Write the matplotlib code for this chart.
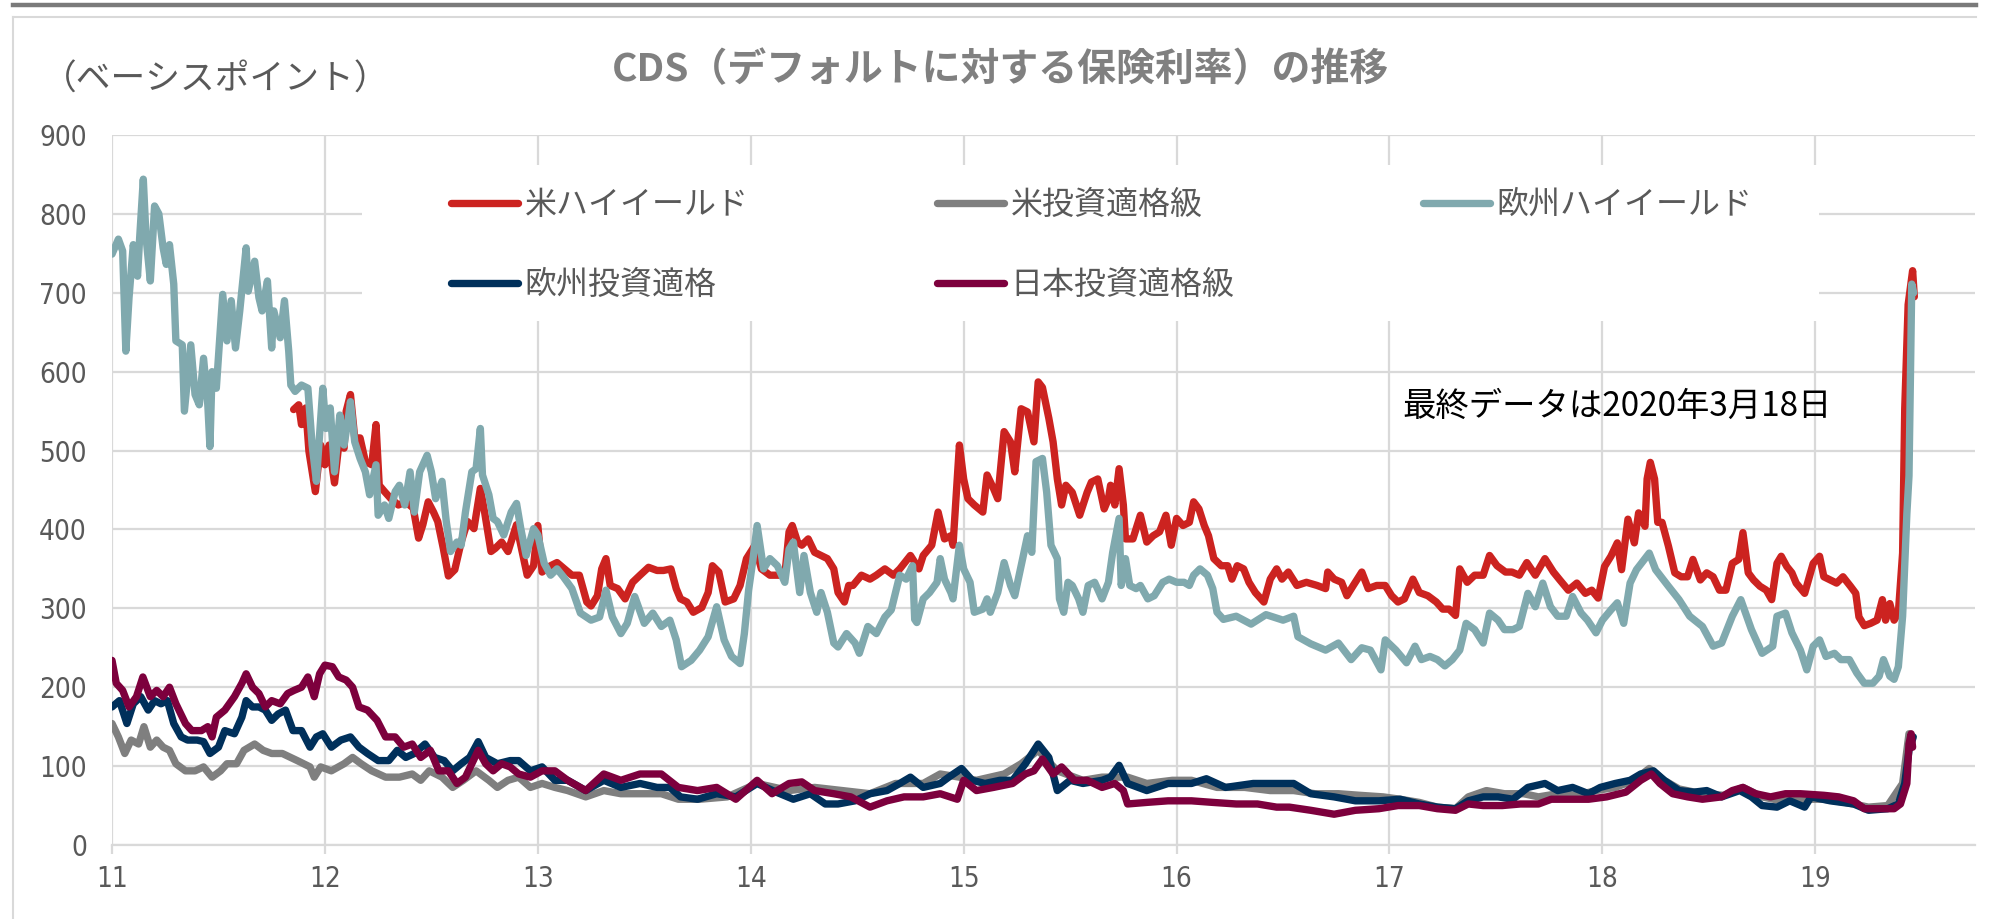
import matplotlib.pyplot as plt
from matplotlib import font_manager
from matplotlib.lines import Line2D
from matplotlib.patches import Rectangle

plt.rcParams['font.family'] = ['Noto Sans CJK JP', 'DejaVu Sans']

# ---- data (x = year label position, y = basis points) ----
us_hy_x = [11.853, 11.877, 11.89, 11.91, 11.925, 11.955, 11.98, 12.0, 12.02, 12.045, 12.065, 12.09, 12.1, 12.12,
           12.14, 12.165, 12.19, 12.22, 12.24, 12.255, 12.28, 12.31, 12.345, 12.38, 12.415, 12.44, 12.46, 12.485,
           12.51, 12.53, 12.556, 12.58, 12.61, 12.64, 12.67, 12.7, 12.73, 12.75, 12.78, 12.8, 12.83, 12.86, 12.9,
           12.92, 12.95, 12.98, 13.0, 13.02, 13.06, 13.09, 13.125, 13.16, 13.195, 13.23, 13.25, 13.28, 13.3, 13.32,
           13.34, 13.375, 13.41, 13.445, 13.48, 13.52, 13.56, 13.59, 13.625, 13.65, 13.67, 13.7, 13.73, 13.77, 13.8,
           13.82, 13.85, 13.88, 13.92, 13.95, 13.98, 14.02, 14.05, 14.09, 14.125, 14.16, 14.18, 14.195, 14.22, 14.24,
           14.27, 14.3, 14.33, 14.36, 14.39, 14.41, 14.44, 14.46, 14.48, 14.52, 14.56, 14.59, 14.63, 14.67, 14.7,
           14.75, 14.79, 14.81, 14.85, 14.88, 14.91, 14.94, 14.95, 14.98, 15.0, 15.02, 15.05, 15.09, 15.11, 15.14,
           15.16, 15.19, 15.22, 15.24, 15.27, 15.3, 15.33, 15.35, 15.37, 15.4, 15.42, 15.44, 15.46, 15.48, 15.51,
           15.545, 15.58, 15.6, 15.63, 15.66, 15.68, 15.69, 15.71, 15.73, 15.75, 15.76, 15.795, 15.83, 15.86, 15.89,
           15.92, 15.95, 15.975, 16.0, 16.03, 16.06, 16.08, 16.105, 16.13, 16.15, 16.175, 16.21, 16.24, 16.26, 16.285,
           16.315, 16.34, 16.37, 16.41, 16.44, 16.47, 16.495, 16.525, 16.565, 16.61, 16.66, 16.7, 16.71, 16.74,
           16.775, 16.8, 16.83, 16.87, 16.9, 16.94, 16.98, 17.01, 17.04, 17.07, 17.11, 17.14, 17.18, 17.22, 17.25,
           17.28, 17.31, 17.33, 17.365, 17.4, 17.44, 17.47, 17.505, 17.545, 17.575, 17.61, 17.645, 17.685, 17.73,
           17.77, 17.8, 17.84, 17.88, 17.92, 17.95, 17.98, 18.01, 18.04, 18.07, 18.09, 18.12, 18.15, 18.17, 18.2,
           18.21, 18.225, 18.245, 18.26, 18.28, 18.31, 18.34, 18.37, 18.4, 18.425, 18.46, 18.49, 18.52, 18.55, 18.58,
           18.61, 18.64, 18.66, 18.685, 18.71, 18.74, 18.77, 18.795, 18.82, 18.84, 18.866, 18.89, 18.91, 18.95,
           18.99, 19.02, 19.04, 19.07, 19.1, 19.13, 19.165, 19.19, 19.205, 19.23, 19.26, 19.29, 19.315, 19.33, 19.35,
           19.37, 19.39, 19.41, 19.42, 19.436, 19.457, 19.465]
us_hy_y = [552, 558, 533, 554, 499, 448, 507, 482, 507, 459, 507, 503, 550, 571, 516, 516, 486, 482, 533, 456, 448,
           439, 431, 435, 427, 389, 406, 435, 422, 410, 376, 341, 349, 384, 410, 401, 452, 422, 372, 376, 384, 372,
           406, 380, 342, 354, 405, 346, 354, 358, 350, 342, 342, 308, 303, 316, 350, 363, 329, 325, 312, 333, 342,
           352, 348, 348, 350, 325, 312, 308, 295, 301, 320, 354, 346, 308, 312, 329, 363, 380, 350, 342, 342, 342,
           397, 405, 384, 380, 388, 371, 367, 363, 350, 320, 308, 329, 329, 342, 337, 342, 350, 342, 350, 367, 350,
           367, 380, 422, 388, 392, 380, 507, 464, 439, 431, 422, 469, 452, 439, 524, 511, 473, 553, 549, 511, 587,
           580, 541, 511, 464, 431, 456, 447, 418, 447, 460, 464, 426, 439, 456, 431, 477, 431, 388, 388, 418, 384,
           392, 397, 418, 380, 414, 405, 409, 435, 426, 405, 392, 363, 354, 354, 337, 354, 350, 333, 320, 308, 337,
           350, 337, 346, 329, 333, 329, 325, 346, 337, 333, 316, 329, 346, 325, 329, 329, 316, 308, 312, 337, 320,
           316, 308, 299, 299, 291, 350, 333, 342, 342, 367, 354, 346, 346, 342, 358, 342, 363, 346, 336, 323, 332,
           319, 323, 313, 353, 366, 383, 349, 413, 383, 421, 404, 464, 485, 464, 409, 409, 379, 345, 340, 340, 362,
           336, 345, 340, 323, 323, 357, 362, 396, 345, 336, 328, 323, 311, 357, 366, 353, 345, 332, 319, 357, 366,
           340, 336, 332, 340, 328, 319, 289, 278, 281, 285, 311, 285, 306, 285, 294, 370, 553, 685, 728, 695]

us_ig_x = [11.0, 11.03, 11.06, 11.09, 11.125, 11.15, 11.18, 11.21, 11.24, 11.27, 11.3, 11.345, 11.39, 11.43, 11.47,
           11.51, 11.54, 11.585, 11.62, 11.67, 11.71, 11.75, 11.8, 11.87, 11.93, 11.95, 11.98, 12.03, 12.09, 12.13,
           12.17, 12.22, 12.285, 12.35, 12.41, 12.45, 12.49, 12.55, 12.6, 12.65, 12.71, 12.77, 12.81, 12.86, 12.91,
           12.965, 13.02, 13.08, 13.14, 13.225, 13.31, 13.39, 13.48, 13.58, 13.66, 13.76, 13.89, 14.03, 14.18, 14.3,
           14.43, 14.56, 14.68, 14.81, 14.89, 14.98, 15.06, 15.19, 15.27, 15.35, 15.44, 15.56, 15.65, 15.77, 15.86,
           15.98, 16.07, 16.19, 16.32, 16.44, 16.55, 16.65, 16.76, 16.86, 16.97, 17.05, 17.14, 17.225, 17.31, 17.37,
           17.455, 17.54, 17.63, 17.7, 17.79, 17.88, 17.97, 18.06, 18.15, 18.22, 18.29, 18.36, 18.47, 18.57, 18.66,
           18.75, 18.84, 18.95, 19.04, 19.14, 19.25, 19.34, 19.41, 19.44, 19.455]
us_ig_y = [154, 137, 116, 133, 128, 150, 124, 133, 124, 120, 103, 94, 94, 99, 86, 94, 103, 103, 120, 128, 120, 116,
           116, 107, 99, 86, 99, 94, 103, 111, 103, 94, 86, 86, 90, 82, 94, 86, 73, 82, 94, 82, 73, 82, 86, 73, 78,
           73, 69, 61, 69, 65, 65, 65, 58, 58, 61, 78, 69, 73, 69, 65, 78, 78, 90, 86, 82, 90, 103, 120, 94, 82, 86,
           86, 78, 82, 82, 73, 73, 69, 69, 65, 65, 63, 61, 58, 54, 48, 46, 61, 69, 65, 65, 61, 65, 63, 69, 73, 82,
           97, 82, 71, 65, 63, 73, 61, 56, 58, 58, 54, 48, 50, 78, 141, 137]

eu_hy_x = [11.0, 11.03, 11.05, 11.065, 11.08, 11.1, 11.12, 11.13, 11.147, 11.16, 11.18, 11.2, 11.22, 11.24, 11.255,
           11.27, 11.29, 11.3, 11.33, 11.34, 11.37, 11.39, 11.41, 11.43, 11.45, 11.46, 11.47, 11.49, 11.52, 11.54,
           11.56, 11.58, 11.6, 11.63, 11.64, 11.67, 11.69, 11.705, 11.73, 11.75, 11.76, 11.79, 11.81, 11.83, 11.84,
           11.86, 11.89, 11.92, 11.94, 11.96, 11.99, 12.005, 12.025, 12.045, 12.07, 12.09, 12.11, 12.12, 12.14,
           12.165, 12.19, 12.21, 12.24, 12.25, 12.28, 12.3, 12.33, 12.35, 12.375, 12.4, 12.42, 12.445, 12.48, 12.5,
           12.52, 12.55, 12.57, 12.59, 12.62, 12.64, 12.66, 12.69, 12.71, 12.73, 12.74, 12.77, 12.79, 12.81, 12.84,
           12.875, 12.9, 12.92, 12.945, 12.98, 13.0, 13.03, 13.06, 13.09, 13.12, 13.16, 13.2, 13.25, 13.29, 13.32,
           13.35, 13.39, 13.42, 13.455, 13.5, 13.54, 13.58, 13.62, 13.65, 13.675, 13.72, 13.76, 13.8, 13.84, 13.875,
           13.91, 13.95, 13.97, 13.99, 14.01, 14.03, 14.06, 14.09, 14.125, 14.16, 14.18, 14.2, 14.23, 14.25, 14.28,
           14.31, 14.33, 14.36, 14.39, 14.41, 14.45, 14.49, 14.51, 14.55, 14.59, 14.63, 14.66, 14.68, 14.7, 14.73,
           14.76, 14.77, 14.78, 14.81, 14.84, 14.875, 14.89, 14.91, 14.94, 14.95, 14.98, 15.0, 15.03, 15.05, 15.09,
           15.11, 15.125, 15.16, 15.19, 15.22, 15.24, 15.27, 15.3, 15.32, 15.34, 15.37, 15.39, 15.41, 15.44, 15.45,
           15.47, 15.49, 15.51, 15.54, 15.56, 15.585, 15.615, 15.65, 15.68, 15.7, 15.73, 15.74, 15.76, 15.78, 15.81,
           15.83, 15.865, 15.895, 15.935, 15.965, 16.0, 16.035, 16.06, 16.08, 16.11, 16.145, 16.17, 16.19, 16.22,
           16.28, 16.35, 16.42, 16.5, 16.55, 16.57, 16.63, 16.7, 16.76, 16.82, 16.87, 16.91, 16.96, 16.98, 17.03,
           17.08, 17.12, 17.15, 17.19, 17.225, 17.26, 17.295, 17.33, 17.36, 17.4, 17.44, 17.47, 17.51, 17.54, 17.58,
           17.61, 17.65, 17.685, 17.72, 17.756, 17.79, 17.83, 17.86, 17.9, 17.93, 17.97, 18.0, 18.04, 18.07, 18.1,
           18.13, 18.16, 18.22, 18.25, 18.31, 18.36, 18.41, 18.47, 18.52, 18.56, 18.61, 18.65, 18.7, 18.75, 18.8,
           18.82, 18.86, 18.89, 18.93, 18.96, 18.99, 19.02, 19.05, 19.09, 19.12, 19.16, 19.195, 19.23, 19.27, 19.3,
           19.32, 19.35, 19.37, 19.39, 19.41, 19.43, 19.44, 19.453, 19.462]
eu_hy_y = [749, 768, 753, 626, 694, 761, 721, 770, 844, 770, 715, 810, 800, 757, 736, 761, 711, 639, 634, 550, 634,
           571, 558, 617, 558, 505, 600, 579, 698, 639, 690, 630, 677, 757, 702, 740, 694, 677, 715, 630, 677, 643,
           690, 626, 583, 575, 583, 579, 507, 461, 579, 528, 554, 473, 545, 507, 541, 562, 511, 490, 473, 444, 482,
           418, 431, 414, 448, 456, 431, 473, 422, 473, 494, 473, 439, 461, 410, 372, 384, 380, 422, 473, 477, 528,
           469, 444, 414, 410, 393, 422, 433, 401, 367, 401, 393, 357, 342, 350, 340, 325, 294, 285, 289, 323, 289,
           268, 281, 315, 281, 294, 277, 285, 260, 226, 234, 247, 264, 302, 260, 239, 230, 268, 323, 361, 405, 350,
           363, 354, 333, 375, 384, 320, 367, 320, 295, 320, 295, 256, 251, 268, 256, 243, 277, 268, 289, 298, 320,
           342, 337, 354, 286, 282, 312, 320, 333, 363, 337, 320, 312, 380, 350, 333, 295, 299, 312, 295, 320, 358,
           329, 316, 354, 392, 371, 486, 490, 447, 380, 363, 312, 295, 333, 329, 312, 295, 329, 333, 312, 333, 371,
           414, 329, 363, 329, 325, 329, 312, 316, 333, 337, 333, 333, 329, 342, 350, 342, 325, 295, 286, 290, 280,
           292, 285, 290, 264, 255, 247, 256, 235, 250, 247, 222, 260, 247, 231, 252, 235, 239, 235, 227, 235, 247,
           281, 273, 256, 294, 285, 273, 273, 277, 319, 302, 332, 302, 290, 290, 315, 294, 285, 269, 285, 298, 307,
           281, 332, 349, 370, 349, 328, 311, 290, 277, 252, 256, 290, 311, 273, 243, 252, 290, 294, 269, 247, 222,
           252, 260, 239, 243, 235, 235, 218, 205, 205, 214, 235, 214, 210, 226, 290, 420, 468, 711, 700]

eu_ig_x = [11.0, 11.035, 11.07, 11.1, 11.135, 11.17, 11.2, 11.23, 11.26, 11.29, 11.325, 11.355, 11.4, 11.43, 11.46,
           11.5, 11.53, 11.575, 11.61, 11.63, 11.66, 11.69, 11.72, 11.75, 11.78, 11.815, 11.85, 11.89, 11.93, 11.96,
           11.99, 12.03, 12.075, 12.12, 12.16, 12.2, 12.25, 12.3, 12.34, 12.38, 12.42, 12.47, 12.515, 12.56, 12.6,
           12.64, 12.68, 12.72, 12.755, 12.81, 12.87, 12.91, 12.965, 13.02, 13.08, 13.14, 13.225, 13.31, 13.39,
           13.48, 13.56, 13.62, 13.67, 13.75, 13.84, 13.93, 14.03, 14.12, 14.2, 14.28, 14.35, 14.41, 14.49, 14.56,
           14.64, 14.7, 14.75, 14.81, 14.89, 14.93, 14.99, 15.04, 15.1, 15.17, 15.23, 15.29, 15.35, 15.4, 15.44,
           15.5, 15.56, 15.65, 15.69, 15.73, 15.77, 15.86, 15.96, 16.07, 16.14, 16.23, 16.36, 16.47, 16.55, 16.63,
           16.74, 16.84, 16.95, 17.05, 17.14, 17.225, 17.31, 17.37, 17.44, 17.51, 17.58, 17.65, 17.73, 17.79, 17.86,
           17.935, 17.99, 18.06, 18.13, 18.18, 18.24, 18.29, 18.36, 18.43, 18.49, 18.56, 18.645, 18.7, 18.75, 18.82,
           18.88, 18.95, 18.98, 19.07, 19.18, 19.25, 19.34, 19.39, 19.42, 19.44, 19.46]
eu_ig_y = [175, 183, 154, 179, 188, 171, 183, 179, 183, 154, 137, 133, 133, 131, 116, 124, 145, 141, 162, 183, 175,
           175, 171, 158, 166, 171, 145, 145, 124, 137, 141, 124, 133, 137, 124, 116, 107, 107, 120, 111, 116, 128,
           111, 107, 94, 103, 111, 131, 111, 103, 107, 107, 94, 99, 82, 82, 69, 82, 73, 78, 73, 73, 61, 58, 65, 61,
           78, 67, 58, 65, 52, 52, 56, 65, 69, 78, 86, 73, 78, 86, 97, 82, 78, 82, 82, 103, 128, 111, 69, 82, 78, 82,
           86, 101, 78, 69, 78, 78, 84, 73, 78, 78, 78, 65, 61, 56, 56, 58, 52, 48, 46, 56, 61, 61, 58, 73, 78, 69,
           73, 65, 73, 78, 82, 90, 94, 82, 69, 67, 69, 61, 69, 61, 50, 48, 56, 48, 61, 56, 52, 44, 46, 52, 78, 120,
           137]

jp_ig_x = [11.0, 11.02, 11.05, 11.08, 11.115, 11.145, 11.18, 11.21, 11.24, 11.27, 11.3, 11.345, 11.375, 11.42, 11.45,
           11.47, 11.49, 11.53, 11.575, 11.61, 11.63, 11.66, 11.69, 11.72, 11.75, 11.79, 11.825, 11.855, 11.89, 11.92,
           11.95, 11.975, 12.0, 12.035, 12.065, 12.1, 12.13, 12.16, 12.2, 12.245, 12.285, 12.33, 12.37, 12.41, 12.45,
           12.495, 12.535, 12.58, 12.62, 12.66, 12.69, 12.72, 12.755, 12.79, 12.83, 12.87, 12.91, 12.965, 13.02,
           13.08, 13.14, 13.225, 13.31, 13.39, 13.48, 13.58, 13.66, 13.75, 13.84, 13.93, 14.03, 14.1, 14.18, 14.24,
           14.3, 14.39, 14.47, 14.56, 14.64, 14.72, 14.81, 14.89, 14.97, 15.0, 15.06, 15.14, 15.23, 15.29, 15.33,
           15.37, 15.42, 15.46, 15.52, 15.58, 15.65, 15.71, 15.75, 15.77, 15.86, 15.96, 16.07, 16.17, 16.28, 16.38,
           16.47, 16.53, 16.63, 16.74, 16.84, 16.95, 17.04, 17.14, 17.225, 17.31, 17.37, 17.44, 17.53, 17.615, 17.7,
           17.76, 17.85, 17.935, 18.02, 18.11, 18.18, 18.23, 18.27, 18.33, 18.4, 18.47, 18.56, 18.61, 18.66, 18.72,
           18.79, 18.86, 18.93, 19.04, 19.11, 19.18, 19.23, 19.3, 19.37, 19.4, 19.43, 19.44, 19.45, 19.457]
jp_ig_y = [234, 205, 196, 175, 188, 213, 188, 196, 188, 200, 179, 154, 145, 145, 150, 137, 162, 171, 188, 205, 217,
           200, 192, 175, 183, 179, 192, 196, 200, 213, 188, 217, 228, 226, 213, 209, 200, 175, 171, 158, 137, 137,
           124, 128, 111, 120, 94, 94, 78, 86, 103, 120, 103, 94, 103, 99, 90, 86, 94, 94, 82, 69, 90, 82, 90, 90,
           73, 69, 73, 58, 82, 65, 78, 80, 69, 65, 61, 48, 56, 61, 61, 65, 58, 82, 69, 73, 78, 90, 94, 109, 90, 99,
           82, 82, 73, 78, 69, 52, 54, 56, 56, 54, 52, 52, 48, 48, 44, 39, 44, 46, 50, 50, 46, 44, 52, 50, 50, 52,
           52, 58, 58, 58, 61, 67, 82, 90, 78, 65, 61, 58, 61, 69, 73, 65, 61, 65, 65, 63, 61, 56, 46, 46, 46, 52,
           78, 128, 141, 124]

labels = ['米ハイイールド', '米投資適格級', '欧州ハイイールド', '欧州投資適格', '日本投資適格級']
colors = ['#cc2320', '#7f7f7f', '#80a9ae', '#00305b', '#7d003d']

# narrow font for the numbers if one is around
installed = {f.name for f in font_manager.fontManager.ttflist}
if 'Liberation Sans Narrow' in installed:
    num_family, num_stretch, num_size = ['Liberation Sans Narrow', 'DejaVu Sans'], 'normal', 23
else:
    num_family, num_stretch, num_size = ['DejaVu Sans'], 'condensed', 20

W, H = 1993, 919
fig = plt.figure(figsize=(W / 100, H / 100), dpi=100)
ax = fig.add_axes([112 / W, 1 - 845 / H, (1975 - 112) / W, (845 - 135) / H])

series = [(us_hy_x, us_hy_y), (us_ig_x, us_ig_y), (eu_hy_x, eu_hy_y), (eu_ig_x, eu_ig_y), (jp_ig_x, jp_ig_y)]
handles = []
for (xs, ys), lab, col in zip(series, labels, colors):
    h, = ax.plot(xs, ys, color=col, lw=5.3, label=lab, zorder=2,
                 solid_capstyle='round', solid_joinstyle='round')
    handles.append(h)

ax.set_xlim(11, 19.75)
ax.set_ylim(0, 900)
ax.set_xticks(range(11, 20))
ax.set_yticks(range(0, 901, 100))
ax.set_axisbelow(True)
ax.grid(True, color='#d9d9d9', lw=1.6)
for s in ['top', 'right', 'left']:
    ax.spines[s].set_visible(False)
ax.spines['bottom'].set_color('#d9d9d9')
ax.spines['bottom'].set_linewidth(1.6)
ax.tick_params(axis='x', length=6.5, width=1.6, color='#d9d9d9', pad=8, labelcolor='#595959')
ax.tick_params(axis='y', length=0, pad=18, labelcolor='#595959')
for lbl in ax.get_xticklabels() + ax.get_yticklabels():
    lbl.set_fontfamily(num_family)
    lbl.set_fontstretch(num_stretch)
    lbl.set_fontsize(num_size)

# white box behind the legend (hides grid there)
ax.add_patch(Rectangle((362 / W, 1 - 321 / H), (1819 - 362) / W, (321 - 165) / H,
                       transform=fig.transFigure, facecolor='white', edgecolor='none', zorder=1))

# legend: 3 columns, row 1 = US HY / US IG / EU HY, row 2 = EU IG / JP IG
order = [0, 3, 1, 4, 2]
ax.legend([handles[i] for i in order], [labels[i] for i in order], ncol=3,
          loc='upper left', bbox_to_anchor=(451 / W, 1 - 189 / H), bbox_transform=fig.transFigure,
          frameon=False, fontsize=23, handlelength=2.1, handletextpad=0.2, columnspacing=5.9,
          labelspacing=1.5, borderpad=0, borderaxespad=0, labelcolor='#595959')

fig.text(1000 / W, 1 - 70 / H, 'CDS（デフォルトに対する保険利率）の推移', ha='center', va='center',
         fontsize=28, fontweight='bold', color='#808080')
fig.text(42 / W, 1 - 80 / H, '（ベーシスポイント）', ha='left', va='center', fontsize=25, color='#595959')
fig.text(1402 / W, 1 - 406 / H, '最終データは2020年3月18日', ha='left', va='center', fontsize=24, color='black')

# frame decorations
fig.add_artist(Line2D([13 / W, 1976 / W], [1 - 5 / H, 1 - 5 / H], color='#7a7a7a', lw=3.2))
fig.add_artist(Line2D([13 / W, 1976 / W], [1 - 17 / H, 1 - 17 / H], color='#d9d9d9', lw=1.5))
fig.add_artist(Line2D([13 / W, 13 / W], [1 - 17 / H, 0], color='#d9d9d9', lw=1.5))

fig.savefig('out.png', dpi=100)
